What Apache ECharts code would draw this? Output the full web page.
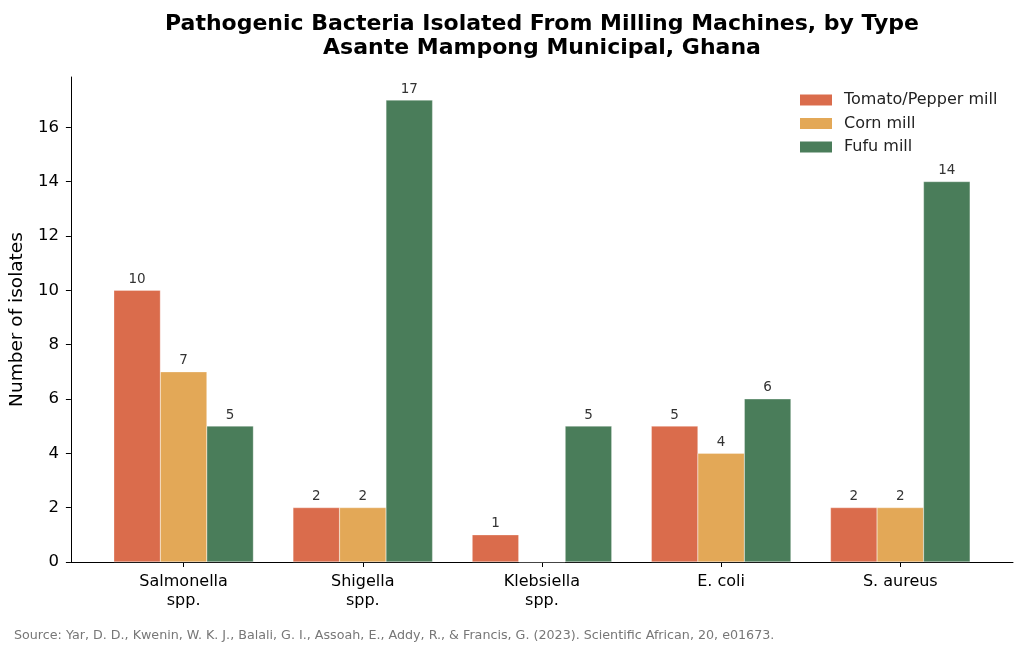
<!DOCTYPE html>
<html>
<head>
<meta charset="utf-8">
<script src="https://cdn.jsdelivr.net/npm/echarts@6/dist/echarts.min.js"></script>
<style>
  html, body { margin: 0; padding: 0; background: #fff; }
  #chart { width: 1024px; height: 654px; }
</style>
</head>
<body>
<div id="chart"></div>
<script>
// data
var categories = ['Salmonella\nspp.', 'Shigella\nspp.', 'Klebsiella\nspp.', 'E. coli', 'S. aureus'];
var tomatoPepper = [10, 2, 1, 5, 2];
var corn = [7, 2, 0, 4, 2];
var fufu = [5, 17, 5, 6, 14];
var yTicks = [0, 2, 4, 6, 8, 10, 12, 14, 16];
var seriesNames = ['Tomato/Pepper mill', 'Corn mill', 'Fufu mill'];
var colors = ['#DA6C4C', '#E3A857', '#4A7D5A'];

var font = 'DejaVu Sans';
var chart = echarts.init(document.getElementById('chart'));

function toPoints(values) {
    var out = [];
    for (var i = 0; i < values.length; i++) {
        out.push([i, values[i]]);
    }
    return out;
}

function barSeries(name, values, color) {
    return {
        name: name,
        type: 'bar',
        data: toPoints(values),
        barWidth: 46.5,
        barGap: '0%',
        itemStyle: { color: color, borderColor: '#fff', borderWidth: 0.3 },
        label: {
            show: true,
            position: 'top',
            distance: 4,
            fontFamily: font,
            fontSize: 13.5,
            color: '#333',
            formatter: function (p) { return p.value[1] === 0 ? '' : p.value[1]; }
        }
    };
}

var tickIdx = categories.map(function (c, i) { return i; });

chart.setOption({
    animation: false,
    color: colors,
    title: {
        text: 'Pathogenic Bacteria Isolated From Milling Machines, by Type\nAsante Mampong Municipal, Ghana',
        left: 537,
        textAlign: 'center',
        top: 7,
        textStyle: {
            fontFamily: font,
            fontWeight: 'bold',
            fontSize: 22,
            lineHeight: 24,
            color: '#000'
        }
    },
    legend: {
        orient: 'vertical',
        left: 793,
        top: 87,
        itemWidth: 34,
        itemHeight: 13,
        itemGap: 7.5,
        icon: 'rect',
        data: seriesNames,
        textStyle: {
            fontFamily: font,
            fontSize: 16,
            color: '#222',
            padding: [0, 0, 0, 6]
        }
    },
    grid: { left: 70, right: 11, top: 77, bottom: 92 },
    xAxis: {
        type: 'value',
        min: -0.629,
        max: 4.629,
        axisLine: { show: true, onZero: false, lineStyle: { color: '#000', width: 1 } },
        axisTick: { show: true, length: 5, customValues: tickIdx, lineStyle: { color: '#000' } },
        splitLine: { show: false },
        axisLabel: {
            customValues: tickIdx,
            margin: 10,
            fontFamily: font,
            fontSize: 16,
            lineHeight: 19,
            color: '#000',
            formatter: function (v) { return categories[Math.round(v)]; }
        }
    },
    yAxis: {
        type: 'value',
        min: 0,
        max: 17.85,
        name: 'Number of isolates',
        nameLocation: 'middle',
        nameGap: 40,
        nameTextStyle: { fontFamily: font, fontSize: 18.5, color: '#000' },
        axisLine: { show: true, onZero: false, lineStyle: { color: '#000', width: 1 } },
        axisTick: { show: true, length: 5, customValues: yTicks, lineStyle: { color: '#000' } },
        splitLine: { show: false },
        axisLabel: {
            customValues: yTicks,
            margin: 12,
            fontFamily: font,
            fontSize: 16.5,
            color: '#000'
        }
    },
    graphic: [{
        type: 'text',
        left: 14,
        top: 629,
        style: {
            text: 'Source: Yar, D. D., Kwenin, W. K. J., Balali, G. I., Assoah, E., Addy, R., & Francis, G. (2023). Scientific African, 20, e01673.',
            fontFamily: font,
            fontSize: 12.7,
            fill: '#777'
        }
    }],
    series: [
        barSeries(seriesNames[0], tomatoPepper, colors[0]),
        barSeries(seriesNames[1], corn, colors[1]),
        barSeries(seriesNames[2], fufu, colors[2])
    ]
});
</script>
</body>
</html>
